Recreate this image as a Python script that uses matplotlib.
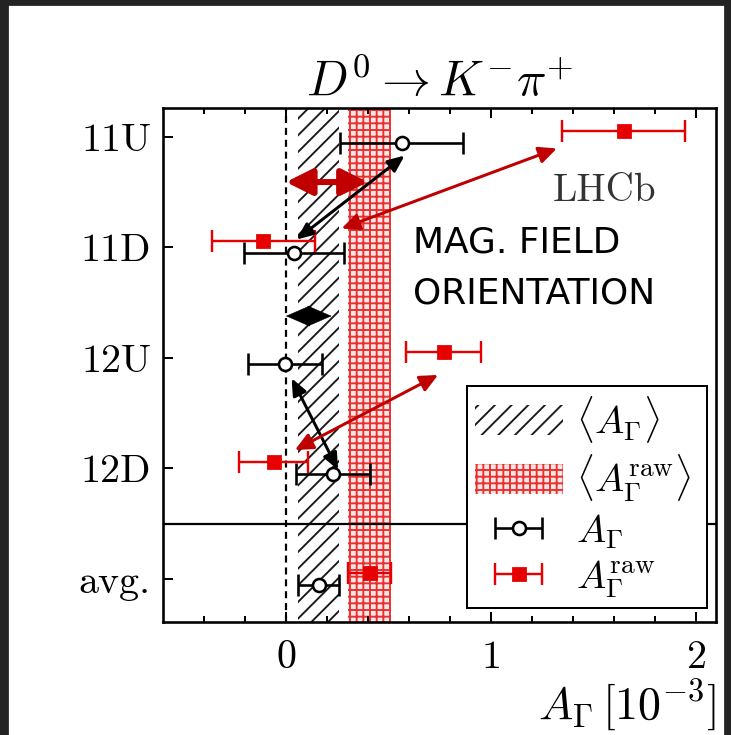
import numpy as np
import matplotlib
matplotlib.use('Agg')
import matplotlib.pyplot as plt
from matplotlib.patches import Patch, Rectangle
from matplotlib.container import ErrorbarContainer
from matplotlib.legend_handler import HandlerErrorbar

DPI = 200
W, H = 731, 735

def pt(px):
  # pixel sizes -> points at the output resolution
  return px*72.0/DPI

plt.rcParams['font.family'] = 'serif'
plt.rcParams['font.serif'] = ['cmr10']
plt.rcParams['mathtext.fontset'] = 'cm'
plt.rcParams['axes.formatter.use_mathtext'] = True
plt.rcParams['hatch.linewidth'] = pt(1.9)

# magnet polarity / year samples
labels = ['11U', '11D', '12U', '12D', 'avg.']
a_gamma = [0.565, 0.04, -0.005, 0.23, 0.16]
a_gamma_err = [0.30, 0.245, 0.18, 0.18, 0.10]
a_raw = [1.65, -0.11, 0.77, -0.06, 0.41]
a_raw_err = [0.30, 0.25, 0.185, 0.17, 0.105]

ypos = np.arange(len(labels))[::-1].astype(float)
dy = 0.055

red = '#e60000'
dark_red = '#c00000'

fig = plt.figure(figsize=(W/DPI, H/DPI), dpi=DPI)
ax = fig.add_axes([163/W, 1-622/H, (716-163)/W, (622-108)/H])

# averages as vertical bands
ax.axvspan(a_gamma[-1]-a_gamma_err[-1], a_gamma[-1]+a_gamma_err[-1], facecolor='white',
           edgecolor='#1a1a1a', hatch='////', lw=0, zorder=1)
ax.axvspan(a_raw[-1]-a_raw_err[-1], a_raw[-1]+a_raw_err[-1], facecolor='#fde6e6',
           edgecolor='#e83030', hatch='+++++', lw=0, zorder=1)
ax.axvline(0, color='k', lw=pt(2.2), dashes=(3.2, 2.2), zorder=2)
ax.axhline(0.5, color='k', lw=pt(2.2), zorder=2)

eb_raw = ax.errorbar(a_raw, ypos+dy, xerr=a_raw_err, fmt='s', color=red, ms=pt(12),
                     mec=red, mfc=red, elinewidth=pt(2.4), capsize=pt(11), capthick=pt(2.4), zorder=4)
eb_gam = ax.errorbar(a_gamma, ypos-dy, xerr=a_gamma_err, fmt='o', color='k', ms=pt(13),
                     mec='k', mfc='white', mew=pt(2.6), elinewidth=pt(2.6), capsize=pt(11),
                     capthick=pt(2.6), zorder=4)

ax.set_xlim(-0.6, 2.1)
ax.set_ylim(-0.39, 4.26)
ax.set_yticks(ypos, labels)
ax.set_xticks([0, 1, 2])
ax.set_xticks(np.arange(-0.4, 2.1, 0.2), minor=True)
ax.tick_params(axis='x', which='both', direction='in', top=True, bottom=True,
               labelsize=pt(40), pad=pt(18), width=pt(2))
ax.tick_params(axis='x', which='major', length=pt(10))
ax.tick_params(axis='x', which='minor', length=pt(6))
ax.tick_params(axis='y', direction='in', length=pt(10), width=pt(2), labelsize=pt(40), pad=pt(12))
for s in ax.spines.values():
  s.set_linewidth(pt(2.6))

ax.set_title(r'$D^0 \to K^{-}\pi^{+}$', fontsize=pt(49), pad=pt(12))
ax.set_xlabel(r'$A_\Gamma\,[10^{-3}]$', fontsize=pt(46), loc='right', labelpad=pt(2))

ax.text(1.556, 3.51, 'LHCb', ha='center', va='center', color='#333333', fontsize=pt(39))
ax.text(0.62, 3.04, 'MAG. FIELD', ha='left', va='center', fontsize=pt(36),
        family='DejaVu Sans', color='k')
ax.text(0.62, 2.586, 'ORIENTATION', ha='left', va='center', fontsize=pt(36),
        family='DejaVu Sans', color='k')

# arrows between polarities: (x0, y0, x1, y1, colour, width px, head length px, head half-width px)
arrows = [
  (0.0, 3.59, 0.40, 3.59, dark_red, 6.0, 22, 11),
  (0.58, 3.83, 0.052, 3.07, 'k', 3.0, 14, 6),
  (1.323, 3.894, 0.272, 3.17, dark_red, 3.0, 15, 7),
  (0.0, 2.378, 0.223, 2.378, 'k', 0.5, 23, 10),
  (0.028, 1.815, 0.255, 0.986, 'k', 3.0, 14, 6),
  (0.743, 1.845, 0.044, 1.166, dark_red, 3.0, 15, 7),
]
for x0, y0, x1, y1, c, lw, hl, hw in arrows:
  ax.annotate('', xy=(x1, y1), xytext=(x0, y0),
              arrowprops=dict(arrowstyle='<|-|>,head_length=%g,head_width=%g' % (pt(hl), pt(hw)),
                              color=c, lw=pt(lw), shrinkA=0, shrinkB=0, mutation_scale=1),
              zorder=6)

h_band = Patch(facecolor='white', edgecolor='#1a1a1a', hatch='////', lw=0)
h_raw_band = Patch(facecolor='#fde6e6', edgecolor='#e83030', hatch='+++++', lw=0)
leg = ax.legend([h_band, h_raw_band, eb_gam, eb_raw],
                [r'$\langle A_\Gamma\rangle$', r'$\langle A_\Gamma^{\mathrm{raw}}\rangle$',
                 r'$A_\Gamma$', r'$A_\Gamma^{\mathrm{raw}}$'],
                loc='lower left', bbox_to_anchor=(0.5497, 0.027, 0.434, 0.43), mode='expand',
                borderaxespad=0, fontsize=pt(39), handlelength=2.25, handleheight=0.8,
                handletextpad=0.35, labelspacing=0.2, borderpad=0.2, numpoints=1,
                fancybox=False, framealpha=1, edgecolor='k',
                handler_map={ErrorbarContainer: HandlerErrorbar(xerr_size=0.6)})
leg.get_frame().set_linewidth(pt(2))
leg.set_zorder(7)

# dark screen border
for x, y, w, h in [(0, 0, 7, H), (725, 0, 6, H), (0, H-4, W, 4)]:
  fig.patches.append(Rectangle((x/W, y/H), w/W, h/H, transform=fig.transFigure,
                               color='#232323', zorder=10))

fig.savefig('out.png', dpi=DPI)
